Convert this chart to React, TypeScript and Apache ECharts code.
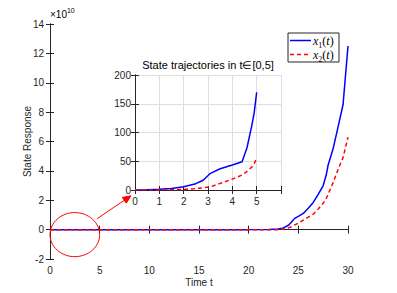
import React, { useEffect, useRef } from "react";
import * as echarts from "echarts";

// Main plot (values in units of 1e10)
const mainT = [0, 5, 10, 15, 20, 22, 23, 23.5, 24, 24.3, 24.6, 25, 25.5, 26, 26.5, 27, 27.5, 27.8, 28, 28.5, 29, 29.5, 30];
const mainX1 = [0, 0, 0, 0, 0, 0.01, 0.05, 0.12, 0.3, 0.5, 0.75, 0.9, 1.1, 1.45, 1.85, 2.4, 3.0, 3.7, 4.4, 5.5, 7.0, 8.5, 12.5];
const mainX2 = [0, 0, 0, 0, 0, 0, 0, 0.04, 0.12, 0.2, 0.3, 0.45, 0.65, 0.85, 1.05, 1.4, 1.8, 2.1, 2.4, 3.2, 4.1, 4.9, 6.3];

// Inset plot, t in [0,5]
const insetT = [0, 0.5, 1, 1.5, 2, 2.5, 2.8, 3.1, 3.5, 4, 4.4, 4.6, 4.8, 4.9, 5];
const insetX1 = [0, 0.3, 1.2, 2.8, 5.5, 11, 17, 29, 37, 43.5, 49, 73, 112, 135, 170];
const insetX2 = [0, 0.05, 0.2, 0.5, 1, 2.5, 3.8, 5.5, 11.5, 19, 26, 32, 40, 46, 55];

const seriesNames = ["x1(t)", "x2(t)"];
const mainXRange = [0, 30, 5];
const mainYRange = [-2, 14, 2];
const insetXRange = [0, 6, 1];
const insetYRange = [0, 200, 50];
const titleText = "State trajectories in t\u2208[0,5]";
const xName = "Time t";
const yName = "State Response";

const AX = "#262626";
const FONT = "Liberation Sans, Arial, sans-serif";
const SERIF = "Liberation Serif, DejaVu Serif, serif";

const pairs = (t: number[], v: number[]) => t.map((x, i) => [x, v[i]]);

export default function App() {
  const ref = useRef<HTMLDivElement>(null);
  useEffect(() => {
    if (!ref.current) return;
    const chart = echarts.init(ref.current, null, { renderer: "svg" });
    const axisLine = { show: true, lineStyle: { color: AX, width: 1 } };
    const tick = { show: true, inside: true, length: 4, lineStyle: { color: AX, width: 1 } };
    const lbl = { color: AX, fontSize: 10, fontFamily: FONT };
    const mk = (r: number[]) => ({ min: r[0], max: r[1], interval: r[2] });
    const option: any = {
      animation: false,
      backgroundColor: "#fff",
      grid: [
        { left: 50, top: 24, width: 298, height: 235, show: false },
        { left: 135, top: 75, width: 146, height: 115, show: true, backgroundColor: "#fff", borderWidth: 0, z: 5 },
      ],
      xAxis: [
        {
          type: "value", gridIndex: 0, position: "bottom", ...mk(mainXRange),
          axisLine, axisTick: tick, splitLine: { show: false },
          axisLabel: { ...lbl, margin: 6 },
          name: xName, nameLocation: "middle", nameGap: 18, nameMoveOverlap: false,
          nameTextStyle: { color: AX, fontSize: 10, fontFamily: FONT },
        },
        {
          type: "value", gridIndex: 0, position: "top", ...mk(mainXRange),
          axisLine, axisTick: tick, splitLine: { show: false }, axisLabel: { show: false },
        },
        {
          type: "value", gridIndex: 1, position: "bottom", ...mk(insetXRange), z: 6,
          axisLine, axisTick: tick, splitLine: { show: true, lineStyle: { color: "#dedede", width: 1 } },
          axisLabel: { ...lbl, margin: 6, formatter: (v: number) => (v > 5 ? "" : String(v)) },
        },
        {
          type: "value", gridIndex: 1, position: "top", ...mk(insetXRange), z: 6,
          axisLine, axisTick: tick, splitLine: { show: false }, axisLabel: { show: false },
        },
      ],
      yAxis: [
        {
          type: "value", gridIndex: 0, position: "left", ...mk(mainYRange),
          axisLine, axisTick: tick, splitLine: { show: false },
          axisLabel: { ...lbl, margin: 6 },
          name: yName, nameLocation: "middle", nameGap: 18, nameMoveOverlap: false,
          nameTextStyle: { color: AX, fontSize: 10, fontFamily: FONT },
        },
        {
          type: "value", gridIndex: 0, position: "right", ...mk(mainYRange),
          axisLine, axisTick: tick, splitLine: { show: false }, axisLabel: { show: false },
        },
        {
          type: "value", gridIndex: 1, position: "left", ...mk(insetYRange), z: 6,
          axisLine, axisTick: tick, splitLine: { show: true, lineStyle: { color: "#dedede", width: 1 } },
          axisLabel: { ...lbl, margin: 4 },
        },
        {
          type: "value", gridIndex: 1, position: "right", ...mk(insetYRange), z: 6,
          axisLine, axisTick: tick, splitLine: { show: false }, axisLabel: { show: false },
        },
      ],
      series: [
        {
          name: seriesNames[0], type: "line", xAxisIndex: 0, yAxisIndex: 0, showSymbol: false,
          data: pairs(mainT, mainX1), lineStyle: { color: "#0000ff", width: 1.5 }, z: 3,
        },
        {
          name: seriesNames[1], type: "line", xAxisIndex: 0, yAxisIndex: 0, showSymbol: false,
          data: pairs(mainT, mainX2), lineStyle: { color: "#ff0000", width: 1.5, type: [4, 3] }, z: 4,
        },
        {
          name: seriesNames[0] + " ", type: "line", xAxisIndex: 2, yAxisIndex: 2, showSymbol: false,
          data: pairs(insetT, insetX1), lineStyle: { color: "#0000ff", width: 1.5 }, z: 7,
        },
        {
          name: seriesNames[1] + " ", type: "line", xAxisIndex: 2, yAxisIndex: 2, showSymbol: false,
          data: pairs(insetT, insetX2), lineStyle: { color: "#ff0000", width: 1.5, type: [4, 3] }, z: 8,
        },
      ],
    };
    chart.setOption(option);

    const p = (t: number, v: number) => chart.convertToPixel({ gridIndex: 0 }, [t, v]) as number[];
    const c = p(2.5, -0.34);
    const ex = p(5, -0.34);
    const ey = p(2.5, 1.16);
    const a0 = p(4.75, 0.75);
    const a1 = p(8.15, 2.3);
    const dx = a1[0] - a0[0], dy = a1[1] - a0[1];
    const len = Math.hypot(dx, dy);
    const ux = dx / len, uy = dy / len;
    const nx = -uy, ny = ux;
    const hl = 8, hw = 3.5;
    const bx = a1[0] - hl * ux, by = a1[1] - hl * uy;

    const insetTL = chart.convertToPixel({ gridIndex: 1 }, [0, 200]) as number[];
    const insetTR = chart.convertToPixel({ gridIndex: 1 }, [6, 200]) as number[];
    const mainTL = chart.convertToPixel({ gridIndex: 0 }, [0, 14]) as number[];
    const mainTR = chart.convertToPixel({ gridIndex: 0 }, [30, 14]) as number[];

    const lgX = mainTR[0] - 60, lgY = mainTR[1] + 9;
    const leg = (name: string) => {
      const m = name.match(/^x(\d)\(t\)$/);
      return m ? `{i|x}{s|${m[1]}}{n|(}{i|t}{n|)}` : name;
    };
    const rich = {
      i: { fontFamily: SERIF, fontStyle: "italic", fontSize: 12, lineHeight: 16, verticalAlign: "middle", color: "#000" },
      n: { fontFamily: SERIF, fontSize: 12, lineHeight: 16, verticalAlign: "middle", color: "#000" },
      s: { fontFamily: SERIF, fontSize: 8, lineHeight: 8, verticalAlign: "bottom", color: "#000" },
    };

    chart.setOption({
      graphic: [
        {
          type: "ellipse", z: 20,
          shape: { cx: c[0], cy: c[1], rx: ex[0] - c[0], ry: c[1] - ey[1] },
          style: { fill: "none", stroke: "#ff0000", lineWidth: 1 },
        },
        {
          type: "line", z: 20,
          shape: { x1: a0[0], y1: a0[1], x2: bx, y2: by },
          style: { stroke: "#ff0000", lineWidth: 1 },
        },
        {
          type: "polygon", z: 20,
          shape: { points: [[a1[0], a1[1]], [bx + hw * nx, by + hw * ny], [bx - hw * nx, by - hw * ny]] },
          style: { fill: "#ff0000", stroke: "#ff0000" },
        },
        {
          type: "text", z: 20,
          x: (insetTL[0] + insetTR[0]) / 2, y: insetTL[1] - 10,
          style: { text: titleText, fill: "#000", font: `11px ${FONT}`, align: "center", verticalAlign: "middle" },
        },
        {
          type: "text", z: 20, x: mainTL[0], y: mainTL[1] - 11,
          style: {
            text: "{a|\u00d710}{b|10}",
            rich: {
              a: { fontFamily: FONT, fontSize: 10, color: AX, lineHeight: 12, verticalAlign: "bottom" },
              b: { fontFamily: FONT, fontSize: 7, color: AX, lineHeight: 7, verticalAlign: "top" },
            },
            verticalAlign: "middle",
          },
        },
        {
          type: "group", z: 20, x: lgX, y: lgY,
          children: [
            { type: "rect", shape: { x: 0, y: 0, width: 51, height: 29 }, style: { fill: "#fff", stroke: AX, lineWidth: 1 }, z: 20 },
            { type: "line", shape: { x1: 2, y1: 7.5, x2: 23, y2: 7.5 }, style: { stroke: "#0000ff", lineWidth: 1.5 }, z: 21 },
            { type: "line", shape: { x1: 2, y1: 21.5, x2: 23, y2: 21.5 }, style: { stroke: "#ff0000", lineWidth: 1.5, lineDash: [4, 3] }, z: 21 },
            { type: "text", x: 25, y: 8, z: 21, style: { text: leg(seriesNames[0]), rich, verticalAlign: "middle" } },
            { type: "text", x: 25, y: 22, z: 21, style: { text: leg(seriesNames[1]), rich, verticalAlign: "middle" } },
          ],
        },
      ],
    });
    return () => chart.dispose();
  }, []);
  return <div ref={ref} style={{ position: "fixed", left: 0, top: 0, width: 397, height: 293 }} />;
}
